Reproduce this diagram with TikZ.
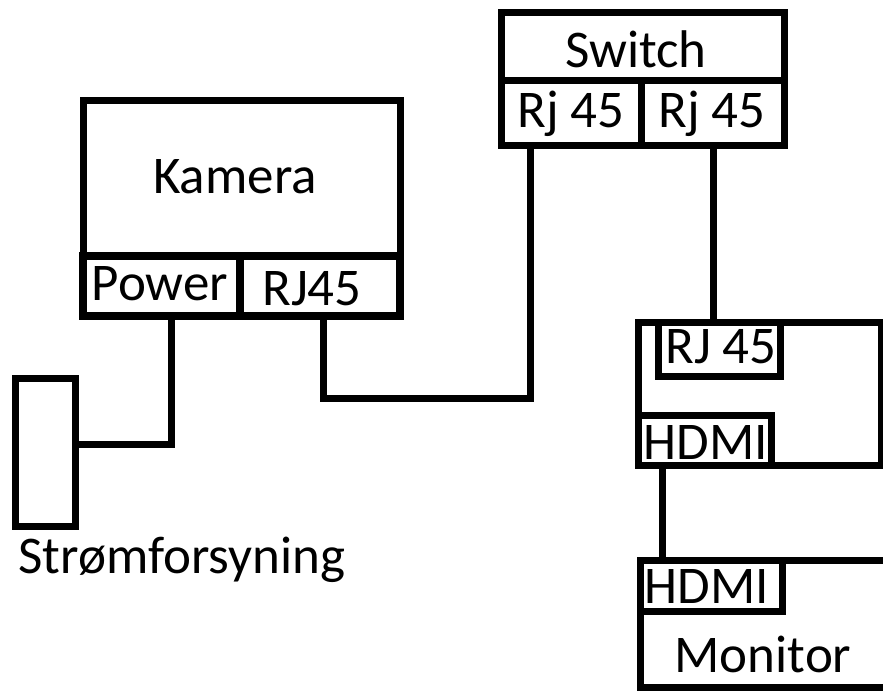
\documentclass[tikz,border=0pt]{standalone}
\usepackage{fontspec}
\setmainfont{Carlito}
\begin{document}
\begin{tikzpicture}[x=1pt,y=-1pt,
  box/.style={draw=black,line width=7pt,fill=none,inner sep=0pt,outer sep=0pt,rectangle,line join=miter},
  wire/.style={draw=black,line width=7pt,line join=miter},
  lbl/.style={anchor=base,inner sep=0pt,font=\fontsize{53pt}{63pt}\selectfont}]
\useasboundingbox (0,0) rectangle (883,691);
% Kamera
\node[box,minimum width=317pt,minimum height=216pt] (kam) at (241.5,208) {};
\node[box,line width=8.5pt,minimum width=157pt,minimum height=60pt] (pwr) at (161.5,286) {};
\node[box,line width=8.5pt,minimum width=160pt,minimum height=60pt] (camrj) at (320,286) {};
\node[lbl] (tkam) at (235,193) {Kamera};
\node[lbl] (tpwr) at (160,300) {Power};
\node[lbl] (tcamrj) at (312,305) {RJ45};
% Switch
\node[box,minimum width=283pt,minimum height=68pt] (sw) at (642.5,46) {};
\node[box,minimum width=140pt,minimum height=65pt] (swa) at (571,112.5) {};
\node[box,minimum width=143pt,minimum height=65pt] (swb) at (712.5,112.5) {};
\node[lbl] (tsw) at (636,67) {Switch};
\node[lbl] (tswa) at (571,127) {Rj 45};
\node[lbl] (tswb) at (712,127) {Rj 45};
% Computer
\node[box,minimum width=243pt,minimum height=143pt] (pc) at (759.5,393.5) {};
\node[box,minimum width=122pt,minimum height=54pt] (pcrj) at (719,349) {};
\node[box,minimum width=133pt,minimum height=50pt] (pchd) at (704.5,440) {};
\node[lbl] (tpcrj) at (721,363) {RJ 45};
\node[lbl] (tpchd) at (706,459) {HDMI};
% Monitor
\node[box,minimum width=260pt,minimum height=127pt] (mon) at (770,623.5) {};
\node[box,minimum width=142pt,minimum height=51pt] (monhd) at (711,585.5) {};
\node[lbl] (tmonhd) at (707,603) {HDMI};
\node[lbl] (tmon) at (763,672) {Monitor};
% Power supply
\node[box,minimum width=60pt,minimum height=148pt] (psu) at (45,452) {};
\node[lbl] (tpsu) at (182,573) {Strømforsyning};
% Wires
\draw[wire] ([xshift=9.5pt]pwr.south) |- ([yshift=8pt]psu.east);
\draw[wire] ([xshift=3pt]camrj.south) -- ++(0pt,-82pt) -| ([xshift=-41pt]swa.south);
\draw[wire] ([xshift=0.5pt]swb.south) -- ([xshift=0.5pt]swb.south |- pc.north);
\draw[wire] ([xshift=-42.5pt]pchd.south) -- ([xshift=-42.5pt]pchd.south |- mon.north);
\end{tikzpicture}
\end{document}
